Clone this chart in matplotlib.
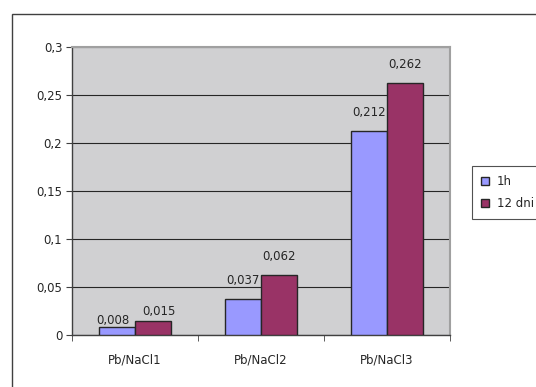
import matplotlib.pyplot as plt
from matplotlib.patches import Rectangle
import numpy as np

plt.rcParams['font.family'] = ['DejaVu Sans']

categories = ['Pb/NaCl1', 'Pb/NaCl2', 'Pb/NaCl3']
series_names = ['1h', '12 dni']
vals_1h = [0.008, 0.037, 0.212]
vals_12dni = [0.015, 0.062, 0.262]
yticks = [0, 0.05, 0.1, 0.15, 0.2, 0.25, 0.3]

colors = ['#9999FF', '#993366']
# label nudges (points) for the crowded first group
label_dx = [[-3, 0, 0], [4, 0, 0]]
label_dy = [[0, 9, 9], [2, 9, 9]]
W, H = 536, 387

fig = plt.figure(figsize=(W / 100, H / 100), dpi=100)
fig.patch.set_facecolor('white')

# chart border (runs past the right and bottom edge)
fig.add_artist(Rectangle((12 / W, -0.05), 1.1, (H - 14) / H + 0.05,
                         transform=fig.transFigure, fill=False,
                         edgecolor='#404040', linewidth=1.0))

ax = fig.add_axes([72 / W, 1 - 335 / H, (450 - 72) / W, (335 - 47) / H])
ax.set_facecolor('#D0D0D2')

x = np.arange(len(categories))
bw = 36 / 126
for i, (vals, c) in enumerate(zip([vals_1h, vals_12dni], colors)):
    pos = x + (i - 0.5) * bw
    ax.bar(pos, vals, width=bw, color=c, edgecolor='#262626',
           linewidth=1.0, zorder=3, label=series_names[i])
    for j, (p, v) in enumerate(zip(pos, vals)):
        ax.annotate(('%g' % v).replace('.', ','), (p, v),
                    xytext=(label_dx[i][j], label_dy[i][j]),
                    textcoords='offset points', ha='center', va='bottom',
                    fontsize=8.5, color='#262626', zorder=4)

ax.set_xlim(-0.5, len(categories) - 0.5)
ax.set_ylim(0, 0.3)
ax.set_yticks(yticks)
ax.set_yticklabels([('%g' % t).replace('.', ',') for t in yticks])
ax.set_xticks(x)
ax.set_xticklabels(categories)
ax.set_xticks(np.arange(len(categories) + 1) - 0.5, minor=True)
ax.tick_params(axis='x', which='major', length=0, pad=13, labelsize=8.5,
               labelcolor='#262626')
ax.tick_params(axis='x', which='minor', length=4, direction='out', color='#404040')
ax.tick_params(axis='y', length=4, direction='out', labelsize=8.5, pad=3,
               color='#404040', labelcolor='#262626')
ax.yaxis.grid(True, color='#262626', linewidth=0.8, zorder=1)
ax.set_axisbelow(True)

for s in ['top', 'right']:
    ax.spines[s].set_color('#A0A0A0')
    ax.spines[s].set_linewidth(1.5)
for s in ['left', 'bottom']:
    ax.spines[s].set_color('#404040')
    ax.spines[s].set_linewidth(1.0)

leg = fig.legend(loc='upper left', bbox_to_anchor=(472 / W, 1 - 166 / H),
                 fontsize=8.5, frameon=True, fancybox=False,
                 handlelength=0.65, handleheight=0.65, handletextpad=0.7,
                 borderpad=0.75, labelspacing=0.75, borderaxespad=0)
leg.get_frame().set_edgecolor('#262626')
leg.get_frame().set_linewidth(0.8)
for t in leg.get_texts():
    t.set_color('#262626')

fig.savefig('out.png', dpi=100, facecolor='white')
